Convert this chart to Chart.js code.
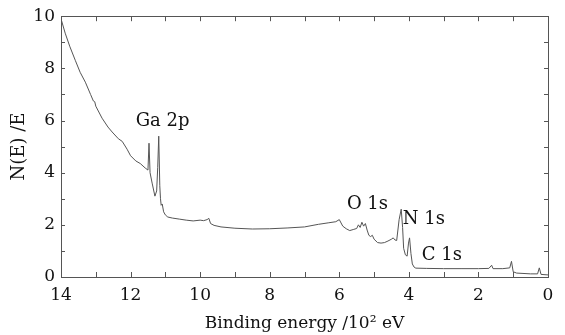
<!DOCTYPE html>
<html><head><meta charset="utf-8">
<script src="https://cdn.jsdelivr.net/npm/chart.js@4/dist/chart.umd.min.js"></script>
<style>html,body{margin:0;padding:0;background:#fff}#c{display:block}</style>
</head><body>
<canvas id="c" width="565" height="335"></canvas>
<script>
// Binding energy (10^2 eV)
const energy = [14.0,13.88,13.75,13.59,13.45,13.3,13.15,13.07,13.03,13.0,12.82,12.65,12.53,12.35,12.24,12.1,12.0,11.85,11.72,11.58,11.5,
 11.47,11.44,11.38,11.3,11.25,11.22,11.19,11.16,11.14,11.12,11.09,11.05,11.0,10.93,10.8,10.6,10.4,10.2,10.0,9.9,9.8,9.75,9.7,9.6,9.4,9.0,8.5,8.0,7.5,7.0,6.6,6.3,6.1,6.0,
 5.9,5.8,5.7,5.6,5.5,5.45,5.4,5.35,5.3,5.25,5.2,5.15,5.1,5.05,5.0,4.9,4.8,4.7,4.6,4.5,4.45,4.4,4.35,4.28,4.22,4.18,4.15,4.1,4.05,4.01,3.98,3.94,3.9,3.85,3.8,3.5,3.0,2.5,2.0,1.7,1.62,1.58,1.3,1.1,1.05,1.0,0.9,0.5,0.3,0.25,0.2,0.0];
// N(E)/E intensity
const intensity = [9.9,9.35,8.85,8.31,7.85,7.47,7.0,6.75,6.72,6.55,6.09,5.75,5.56,5.3,5.2,4.9,4.65,4.45,4.35,4.18,4.1,
 5.13,4.0,3.6,3.1,3.3,4.2,5.4,3.5,3.0,2.75,2.8,2.5,2.38,2.3,2.26,2.22,2.18,2.15,2.18,2.16,2.2,2.25,2.05,1.98,1.92,1.87,1.84,1.85,1.88,1.92,2.02,2.08,2.12,2.2,
 1.95,1.85,1.78,1.82,1.86,2.0,1.9,2.1,1.95,2.05,1.8,1.6,1.55,1.6,1.45,1.32,1.3,1.32,1.38,1.45,1.5,1.42,1.4,2.2,2.6,1.9,1.1,0.85,0.8,1.3,1.5,0.9,0.5,0.38,0.34,0.33,0.32,0.32,0.32,0.33,0.45,0.32,0.32,0.35,0.6,0.2,0.15,0.12,0.12,0.35,0.1,0.08];
const xTickLabels = [0,2,4,6,8,10,12,14];
const yTickLabels = [0,2,4,6,8,10];
const peakLabels = ["Ga 2p","O 1s","N 1s","C 1s"];
const peakLabelX = [11.08,5.19,3.57,3.05];
const peakLabelY = [5.8,2.6,2.04,0.65];

const FONT = "'DejaVu Serif', serif";
const points = energy.map((e,i)=>({x:e,y:intensity[i]}));

const framePlugin = {
  id:'frame',
  afterDatasetsDraw(chart){
    const {ctx, chartArea:a, scales:{x,y}} = chart;
    ctx.save();
    ctx.strokeStyle = '#555'; ctx.lineWidth = 1;
    ctx.strokeRect(Math.round(a.left)+0.5, Math.round(a.top)+0.5, Math.round(a.right-a.left), Math.round(a.bottom-a.top));
    ctx.beginPath();
    x.ticks.forEach(t=>{
      const px = Math.round(x.getPixelForValue(t.value))+0.5;
      ctx.moveTo(px,a.bottom); ctx.lineTo(px,a.bottom-5);
      ctx.moveTo(px,a.top); ctx.lineTo(px,a.top+5);
    });
    y.ticks.forEach(t=>{
      const py = Math.round(y.getPixelForValue(t.value))+0.5;
      ctx.moveTo(a.left,py); ctx.lineTo(a.left+4,py);
      ctx.moveTo(a.right,py); ctx.lineTo(a.right-4,py);
    });
    ctx.stroke();
    ctx.fillStyle = '#111';
    ctx.font = "18px " + FONT;
    ctx.textAlign = 'center'; ctx.textBaseline = 'alphabetic';
    peakLabels.forEach((s,i)=>{
      ctx.fillText(s, x.getPixelForValue(peakLabelX[i]), y.getPixelForValue(peakLabelY[i]));
    });
    ctx.restore();
  }
};

new Chart(document.getElementById('c'), {
  type:'line',
  data:{datasets:[{data:points, borderColor:'#555', borderWidth:1, pointRadius:0, tension:0, fill:false}]},
  options:{
    responsive:false, animation:false,
    layout:{padding:{left:9, top:16, right:17, bottom:0}},
    plugins:{legend:{display:false}, tooltip:{enabled:false}},
    scales:{
      x:{type:'linear', reverse:true, min:0, max:14,
         grid:{display:false, drawTicks:false}, border:{display:false},
         ticks:{stepSize:1, padding:8, color:'#111', font:{family:FONT, size:17},
                callback:v=>xTickLabels.includes(v)?String(v):''},
         title:{display:true, text:'Binding energy /10² eV', color:'#111', font:{family:FONT, size:17}, padding:{top:2,bottom:1}},
         afterFit(s){ s.height = 58; }
      },
      y:{type:'linear', min:0, max:10,
         grid:{display:false, drawTicks:false}, border:{display:false},
         ticks:{stepSize:0.5, padding:6, color:'#111', font:{family:FONT, size:17},
                callback:v=>yTickLabels.includes(v)?String(v):''},
         title:{display:true, text:'N(E) /E', color:'#111', font:{family:FONT, size:18}, padding:0},
         afterFit(s){ s.width = 52; }
      }
    }
  },
  plugins:[framePlugin]
});
</script>
</body></html>
